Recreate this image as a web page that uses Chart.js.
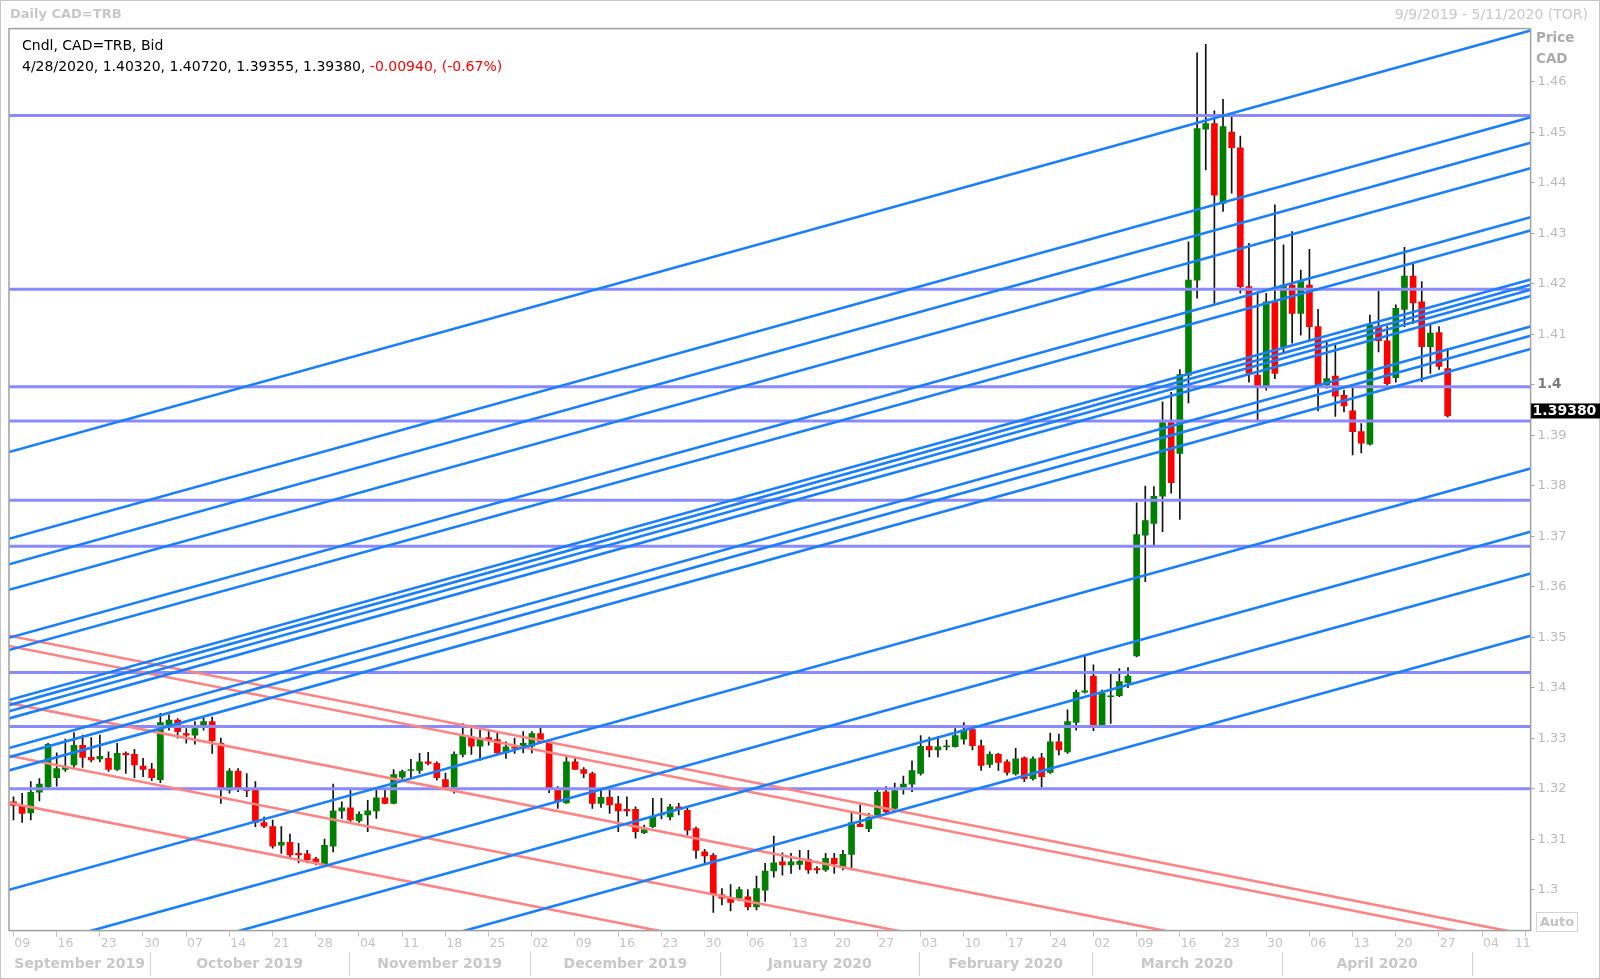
<!DOCTYPE html>
<html><head><meta charset="utf-8">
<script src="https://cdn.jsdelivr.net/npm/chart.js@4.4.1/dist/chart.umd.min.js"></script>
<style>html,body{margin:0;padding:0;background:#fff;}canvas{display:block}</style>
</head><body>
<canvas id="c" width="1600" height="979"></canvas>
<script>
// ---------- DATA ----------
const firstDay = '2019-09-09';
const lastDay = '2020-05-11';
const opens = [1.3174,1.3167,1.3152,1.3193,1.3204,1.3222,1.3238,1.3247,1.3286,1.3262,1.3259,1.3260,1.3238,1.3270,1.3268,1.3245,1.3239,1.3218,1.3326,1.3336,1.3309,1.3306,1.3326,1.3333,1.3290,1.3197,1.3235,1.3200,1.3197,1.3133,1.3125,1.3088,1.3094,1.3072,1.3071,1.3061,1.3051,1.3086,1.3156,1.3162,1.3136,1.3148,1.3156,1.3182,1.3171,1.3223,1.3236,1.3236,1.3253,1.3250,1.3218,1.3204,1.3268,1.3303,1.3284,1.3301,1.3297,1.3271,1.3283,1.3280,1.3284,1.3309,1.3293,1.3200,1.3172,1.3253,1.3238,1.3230,1.3171,1.3183,1.3170,1.3159,1.3159,1.3113,1.3125,1.3148,1.3144,1.3164,1.3157,1.3121,1.3075,1.3068,1.2990,1.2985,1.2983,1.2986,1.2966,1.2999,1.3037,1.3055,1.3049,1.3050,1.3060,1.3042,1.3039,1.3062,1.3046,1.3070,1.3130,1.3121,1.3148,1.3194,1.3161,1.3203,1.3209,1.3230,1.3284,1.3277,1.3283,1.3283,1.3298,1.3317,1.3285,1.3248,1.3268,1.3253,1.3229,1.3261,1.3220,1.3261,1.3232,1.3293,1.3273,1.3331,1.3391,1.3423,1.3324,1.3382,1.3384,1.3410,1.3463,1.3702,1.3725,1.3779,1.3925,1.3864,1.4019,1.4207,1.4506,1.4517,1.4359,1.4500,1.4469,1.4194,1.4019,1.3996,1.4164,1.4075,1.4197,1.4141,1.4197,1.4115,1.4000,1.4017,1.3979,1.3948,1.3907,1.3882,1.4116,1.4087,1.4014,1.4149,1.4215,1.4164,1.4075,1.4103,1.4032];
const highs = [1.3184,1.3191,1.3214,1.3220,1.3290,1.3271,1.3298,1.3311,1.3306,1.3301,1.3306,1.3273,1.3290,1.3273,1.3278,1.3260,1.3250,1.3349,1.3346,1.3339,1.3319,1.3333,1.3341,1.3342,1.3300,1.3240,1.3240,1.3230,1.3214,1.3144,1.3138,1.3125,1.3110,1.3092,1.3078,1.3064,1.3100,1.3209,1.3174,1.3197,1.3154,1.3177,1.3197,1.3197,1.3238,1.3237,1.3258,1.3270,1.3272,1.3253,1.3231,1.3273,1.3329,1.3319,1.3316,1.3316,1.3313,1.3293,1.3300,1.3313,1.3313,1.3321,1.3297,1.3204,1.3264,1.3260,1.3242,1.3233,1.3197,1.3204,1.3185,1.3184,1.3164,1.3128,1.3181,1.3181,1.3169,1.3171,1.3163,1.3124,1.3080,1.3072,1.3002,1.3010,1.3005,1.3000,1.3027,1.3052,1.3106,1.3073,1.3072,1.3078,1.3078,1.3046,1.3072,1.3072,1.3078,1.3151,1.3168,1.3151,1.3197,1.3204,1.3211,1.3225,1.3255,1.3305,1.3302,1.3303,1.3296,1.3319,1.3331,1.3321,1.3296,1.3273,1.3270,1.3257,1.3280,1.3263,1.3263,1.3270,1.3310,1.3308,1.3356,1.3395,1.3465,1.3445,1.3395,1.3428,1.3438,1.3440,1.3766,1.3799,1.3798,1.3966,1.3985,1.4030,1.4283,1.4657,1.4674,1.4542,1.4565,1.4537,1.4492,1.4280,1.4184,1.4181,1.4356,1.4277,1.4303,1.4227,1.4268,1.4149,1.4085,1.4082,1.3989,1.3996,1.3923,1.4138,1.4185,1.4115,1.4158,1.4272,1.4240,1.4204,1.4121,1.4115,1.4072];
const lows = [1.3138,1.3133,1.3138,1.3176,1.3200,1.3205,1.3234,1.3242,1.3242,1.3253,1.3253,1.3234,1.3236,1.3230,1.3222,1.3224,1.3216,1.3212,1.3316,1.3300,1.3290,1.3288,1.3316,1.3270,1.3171,1.3191,1.3194,1.3184,1.3125,1.3123,1.3082,1.3072,1.3065,1.3053,1.3053,1.3049,1.3045,1.3075,1.3141,1.3135,1.3133,1.3115,1.3141,1.3170,1.3170,1.3220,1.3220,1.3230,1.3247,1.3217,1.3202,1.3191,1.3263,1.3268,1.3256,1.3286,1.3270,1.3260,1.3270,1.3271,1.3271,1.3290,1.3192,1.3161,1.3171,1.3238,1.3222,1.3161,1.3163,1.3151,1.3115,1.3146,1.3102,1.3111,1.3123,1.3140,1.3138,1.3148,1.3108,1.3062,1.3052,1.2955,1.2970,1.2958,1.2978,1.2960,1.2960,1.2977,1.3025,1.3029,1.3032,1.3040,1.3032,1.3032,1.3036,1.3032,1.3039,1.3039,1.3125,1.3115,1.3144,1.3151,1.3154,1.3189,1.3194,1.3227,1.3263,1.3263,1.3277,1.3282,1.3288,1.3277,1.3236,1.3242,1.3236,1.3227,1.3227,1.3214,1.3217,1.3203,1.3230,1.3267,1.3270,1.3316,1.3389,1.3315,1.3321,1.3329,1.3382,1.3400,1.3461,1.3610,1.3682,1.3709,1.3785,1.3733,1.3964,1.4171,1.4425,1.4161,1.4343,1.4379,1.4181,1.4005,1.3930,1.3989,1.4012,1.4065,1.4082,1.4098,1.4088,1.3948,1.3993,1.3937,1.3946,1.3861,1.3865,1.3880,1.4065,1.3999,1.4005,1.4115,1.4121,1.4006,1.4022,1.4030,1.39355];
const closes = [1.3167,1.3151,1.3193,1.3209,1.3288,1.3240,1.3243,1.3286,1.3262,1.3257,1.3264,1.3238,1.3270,1.3267,1.3247,1.3238,1.3222,1.3331,1.3336,1.3313,1.3306,1.3319,1.3333,1.3295,1.3200,1.3235,1.3200,1.3196,1.3133,1.3126,1.3086,1.3094,1.3069,1.3069,1.3059,1.3055,1.3088,1.3156,1.3162,1.3138,1.3149,1.3156,1.3182,1.3171,1.3228,1.3234,1.3238,1.3253,1.3250,1.3222,1.3204,1.3268,1.3304,1.3284,1.3300,1.3297,1.3271,1.3283,1.3280,1.3290,1.3309,1.3293,1.3200,1.3174,1.3253,1.3238,1.3230,1.3171,1.3183,1.3168,1.3156,1.3156,1.3115,1.3119,1.3146,1.3150,1.3164,1.3159,1.3118,1.3078,1.3067,1.2990,1.2983,1.2975,1.3000,1.2966,1.3002,1.3037,1.3053,1.3049,1.3055,1.3056,1.3039,1.3039,1.3062,1.3051,1.3070,1.3133,1.3125,1.3143,1.3193,1.3154,1.3196,1.3209,1.3236,1.3284,1.3277,1.3283,1.3284,1.3305,1.3316,1.3285,1.3246,1.3268,1.3252,1.3232,1.3259,1.3220,1.3259,1.3224,1.3293,1.3277,1.3333,1.3391,1.3394,1.3324,1.3389,1.3384,1.3412,1.3423,1.3703,1.3731,1.3779,1.3925,1.3806,1.4020,1.4207,1.4507,1.4517,1.4375,1.4511,1.4469,1.4194,1.4022,1.3996,1.4164,1.4022,1.4197,1.4141,1.4204,1.4115,1.4000,1.4012,1.3977,1.3958,1.3907,1.3884,1.4118,1.4087,1.4002,1.4151,1.4215,1.4162,1.4075,1.4102,1.4036,1.3938];
const priceTicks = [1.30,1.31,1.32,1.33,1.34,1.35,1.36,1.37,1.38,1.39,1.40,1.41,1.42,1.43,1.44,1.45,1.46];
const horizontalLevels = [1.4533,1.4189,1.3996,1.3928,1.3771,1.3680,1.3430,1.3323,1.3200];
const blueLineStart = [1.38665,1.36948,1.36443,1.35937,1.34988,1.34745,1.33755,1.33654,1.33533,1.33391,1.32805,1.32623,1.32361,1.29997,1.28736,1.27924,1.26693];
const blueLineEnd   = [1.47010,1.45293,1.44788,1.44283,1.43313,1.43050,1.42080,1.41979,1.41878,1.41757,1.41151,1.40969,1.40706,1.38342,1.37089,1.36261,1.35028];
const redLineStart = [1.35028,1.34826,1.33694,1.32652,1.31720];
const redLineEnd   = [1.29094,1.28892,1.27760,1.26718,1.25786];
const lineAnchorStart = -0.52, lineAnchorEnd = 175.6;   // trading-day index of line anchors
const legendTitle = 'Cndl, CAD=TRB, Bid';
const legendValues = '4/28/2020, 1.40320, 1.40720, 1.39355, 1.39380, ';
const legendChange = '-0.00940, (-0.67%)';
const lastPrice = '1.39380';

// ---------- CALENDAR (weekday index) ----------
const monthNames = ['January','February','March','April','May','June','July','August','September','October','November','December'];
const days = [];
(function(){
  let d = new Date(firstDay + 'T00:00:00Z'); const end = new Date(lastDay + 'T00:00:00Z');
  while (d <= end) { const wd = d.getUTCDay(); if (wd !== 0 && wd !== 6) days.push(new Date(d)); d = new Date(d.getTime() + 86400000); }
})();

// ---------- DATASETS ----------
const FONT = '"DejaVu Sans", Verdana, sans-serif';
const datasets = [];
datasets.push({type:'bar', order:30, grouped:false, barThickness:1, backgroundColor:'#111',
  data: opens.map((o,i)=>({x:i, y:[lows[i], highs[i]]}))});
datasets.push({type:'bar', order:20, grouped:false, barThickness:6, minBarLength:1,
  backgroundColor: opens.map((o,i)=> closes[i] >= o ? '#008000' : '#ff0000'),
  data: opens.map((o,i)=>({x:i, y:[o, closes[i]]}))});
horizontalLevels.forEach(v => datasets.push({type:'line', order:12, borderColor:'#8a8aff', borderWidth:3, pointRadius:0, clip:0,
  data:[{x:lineAnchorStart-2,y:v},{x:lineAnchorEnd+2,y:v}]}));
redLineStart.forEach((v,k) => datasets.push({type:'line', order:11, borderColor:'#ff8585', borderWidth:2.6, pointRadius:0, clip:0,
  data:[{x:lineAnchorStart,y:v},{x:lineAnchorEnd,y:redLineEnd[k]}]}));
blueLineStart.forEach((v,k) => datasets.push({type:'line', order:10, borderColor:'#1a7fff', borderWidth:2.6, pointRadius:0, clip:0,
  data:[{x:lineAnchorStart,y:v},{x:lineAnchorEnd,y:blueLineEnd[k]}]}));

const isMain = c => !!(c && c.tick && Math.abs(c.tick.value - 1.4) < 1e-9);

// ---------- DECORATION PLUGIN ----------
const deco = {
  id:'deco',
  afterDraw(chart){
    const {ctx, chartArea:a, scales:{x, y}} = chart;
    ctx.save();
    ctx.strokeStyle = '#c4c4c4'; ctx.lineWidth = 1;
    ctx.strokeRect(0.5, 0.5, chart.width-1, chart.height-1);
    ctx.strokeStyle = '#a0a0a0'; ctx.lineWidth = 1.5;
    ctx.strokeRect(a.left, a.top, a.right-a.left, a.bottom-a.top);
    ctx.textBaseline = 'middle';
    ctx.fillStyle = '#c8c8c8'; ctx.font = 'bold 13px ' + FONT; ctx.textAlign = 'left';
    ctx.fillText('Daily CAD=TRB', 10, 15);
    ctx.font = '14px ' + FONT; ctx.textAlign = 'right';
    ctx.fillText('9/9/2019 - 5/11/2020 (TOR)', 1588, 15);
    ctx.textAlign = 'left'; ctx.font = '14px ' + FONT; ctx.fillStyle = '#000';
    ctx.fillText(legendTitle, 22, 46);
    ctx.fillText(legendValues, 22, 67.5);
    const w = ctx.measureText(legendValues).width;
    ctx.fillStyle = '#ff0000'; ctx.fillText(legendChange, 22 + w, 67.5);
    ctx.fillStyle = '#ababab'; ctx.font = 'bold 13.5px ' + FONT;
    ctx.fillText('Price', 1536, 38); ctx.fillText('CAD', 1536, 59.5);
    const py = y.getPixelForValue(closes[closes.length-1]) - 5;
    ctx.fillStyle = '#000'; ctx.fillRect(a.right+0.5, py-7.5, chart.width - a.right, 15);
    ctx.fillStyle = '#fff'; ctx.font = 'bold 14px ' + FONT; ctx.fillText(lastPrice, a.right+2, py+0.5);
    ctx.strokeStyle = '#d4d4d4'; ctx.lineWidth = 1; ctx.strokeRect(1536.5, 912.5, 41, 19);
    ctx.fillStyle = '#c4c4c4'; ctx.font = 'bold 13px ' + FONT; ctx.textAlign = 'center';
    ctx.fillText('Auto', 1557, 922.5);
    ctx.font = '12.5px ' + FONT; ctx.fillStyle = '#c4c4c4'; ctx.strokeStyle = '#bdbdbd'; ctx.lineWidth = 1;
    days.forEach((d,i) => {
      if (d.getUTCDay() !== 1) return;
      const px = x.getPixelForValue(i) - 0.7;
      ctx.beginPath(); ctx.moveTo(Math.round(px)+0.5, a.bottom+1); ctx.lineTo(Math.round(px)+0.5, a.bottom+6); ctx.stroke();
      const t = String(d.getUTCDate()).padStart(2,'0');
      const tw = ctx.measureText(t).width;
      let lx = px + 1.5; if (lx + tw > a.right) lx = a.right - tw;
      ctx.textAlign = 'left'; ctx.fillText(t, lx, 944);
    });
    const starts = [];
    days.forEach((d,i) => { if (i === 0 || d.getUTCMonth() !== days[i-1].getUTCMonth()) starts.push(i); });
    ctx.font = 'bold 14px ' + FONT; ctx.strokeStyle = '#d0d0d0';
    starts.forEach((s,k) => {
      const left = k === 0 ? a.left : x.getPixelForValue(s) - 1.5;
      const right = k+1 < starts.length ? x.getPixelForValue(starts[k+1]) - 1.5 : a.right;
      if (k > 0) { ctx.beginPath(); ctx.moveTo(Math.round(left)+0.5, 952); ctx.lineTo(Math.round(left)+0.5, 976); ctx.stroke(); }
      const d = days[s]; const t = monthNames[d.getUTCMonth()] + ' ' + d.getUTCFullYear();
      if (ctx.measureText(t).width < right - left - 4) { ctx.textAlign = 'center'; ctx.fillStyle = '#c8c8c8'; ctx.fillText(t, (left+right)/2, 964.5); }
    });
    ctx.restore();
  }
};

new Chart(document.getElementById('c'), {
  type:'bar',
  data:{datasets},
  options:{
    responsive:false, animation:false, devicePixelRatio:1, events:[],
    layout:{padding:{left:9, top:28.6, right:0, bottom:48.4}},
    plugins:{legend:{display:false}, tooltip:{enabled:false}},
    scales:{
      x:{type:'linear', min:lineAnchorStart, max:lineAnchorEnd, offset:false, display:false},
      y:{type:'linear', position:'right', min:1.2919, max:1.4705,
        afterFit(s){ s.width = 69.4; },
        afterBuildTicks(s){ s.ticks = priceTicks.map(v=>({value:v})); },
        grid:{drawOnChartArea:false, drawTicks:true, tickLength:4, color:'#a8a8a8'},
        border:{display:false},
        ticks:{autoSkip:false, padding:3,
          color: c => isMain(c) ? '#7a7a7a' : '#bababa',
          font: c => isMain(c) ? {family:FONT, size:13.5, weight:'bold'} : {family:FONT, size:13},
          callback: v => String(Number(Number(v).toFixed(2)))}
      }
    }
  },
  plugins:[deco]
});
</script>
</body></html>
